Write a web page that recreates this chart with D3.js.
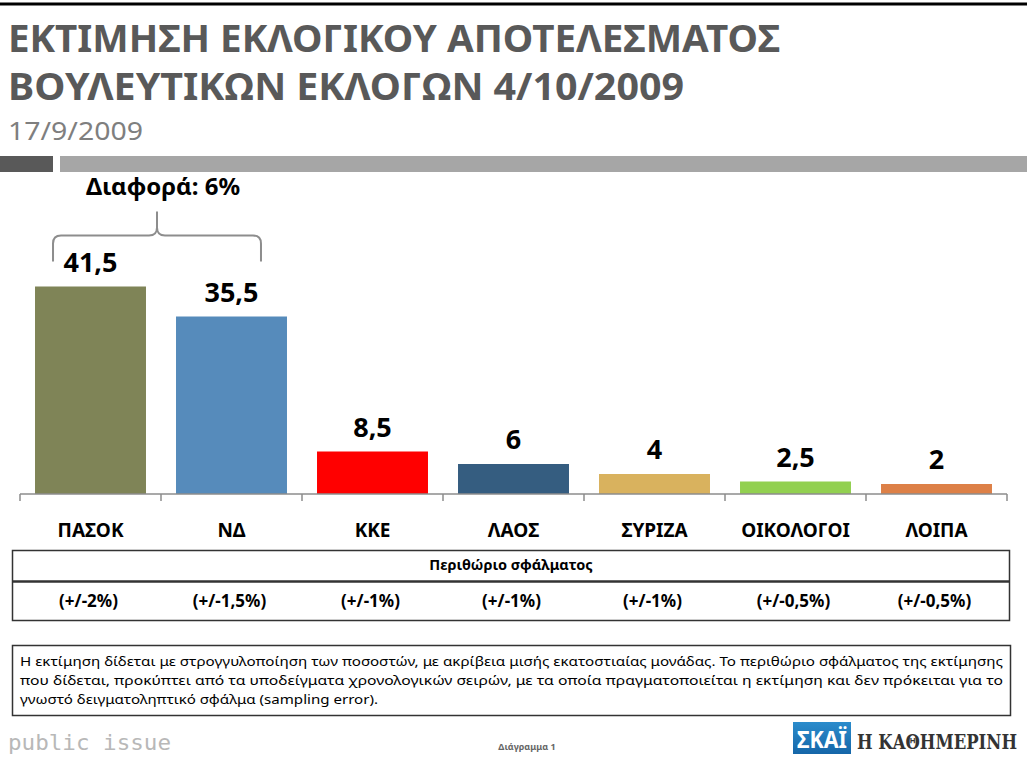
<!DOCTYPE html>
<html>
<head>
<meta charset="utf-8">
<script src="https://cdn.jsdelivr.net/npm/d3@7"></script>
<style>
  body { margin: 0; background: #fff; }
  svg { display: block; font-family: "Noto Sans", "Open Sans", sans-serif; }
</style>
</head>
<body>
<svg id="chart"></svg>
<script>
// data
var parties = ["ΠΑΣΟΚ", "ΝΔ", "ΚΚΕ", "ΛΑΟΣ", "ΣΥΡΙΖΑ", "ΟΙΚΟΛΟΓΟΙ", "ΛΟΙΠΑ"];
var values = [41.5, 35.5, 8.5, 6, 4, 2.5, 2];
var partyColors = ["#7f8457", "#568bbb", "#ff0000", "#355d80", "#d9b25e", "#92d050", "#dd8047"];
var errorMargins = ["(+/-2%)", "(+/-1,5%)", "(+/-1%)", "(+/-1%)", "(+/-1%)", "(+/-0,5%)", "(+/-0,5%)"];
var titleLines = ["ΕΚΤΙΜΗΣΗ ΕΚΛΟΓΙΚΟΥ ΑΠΟΤΕΛΕΣΜΑΤΟΣ", "ΒΟΥΛΕΥΤΙΚΩΝ ΕΚΛΟΓΩΝ 4/10/2009"];
var subtitle = "17/9/2009";
var diffLabel = "Διαφορά: 6%";
var noteLines = [
  "Η εκτίμηση δίδεται με στρογγυλοποίηση των ποσοστών, με ακρίβεια μισής εκατοστιαίας μονάδας. Το περιθώριο σφάλματος της εκτίμησης",
  "που δίδεται, προκύπτει από τα υποδείγματα χρονολογικών σειρών, με τα οποία πραγματοποιείται η εκτίμηση και δεν πρόκειται για το",
  "γνωστό δειγματοληπτικό σφάλμα (sampling error)."
];

var width = 1027, height = 760;
var fmt = function (v) { return String(v).replace(".", ","); };

var svg = d3.select("#chart")
            .attr("width", width)
            .attr("height", height);

// top frame line
svg.append("line")
   .attr("x1", 0).attr("x2", width)
   .attr("y1", 4).attr("y2", 4)
   .attr("stroke", "#000").attr("stroke-width", 3);

// titles
var titleLen = [772, 676];
titleLines.forEach(function (t, i) {
    svg.append("text")
       .attr("x", 8)
       .attr("y", 52 + i * 48)
       .attr("textLength", titleLen[i])
       .attr("lengthAdjust", "spacingAndGlyphs")
       .style("font-size", "38px")
       .style("font-weight", "bold")
       .style("fill", "#595959")
       .text(t);
});
svg.append("text")
   .attr("x", 8).attr("y", 140)
   .attr("textLength", 135)
   .attr("lengthAdjust", "spacingAndGlyphs")
   .style("font-size", "26px")
   .style("fill", "#7f7f7f")
   .text(subtitle);

// gray separator bars
svg.append("rect").attr("x", 0).attr("y", 156).attr("width", 53).attr("height", 16).attr("fill", "#595959");
svg.append("rect").attr("x", 60).attr("y", 156).attr("width", width - 60).attr("height", 16).attr("fill", "#a6a6a6");

// scales
var x = d3.scaleBand()
          .domain(parties)
          .range([20, 1007])
          .paddingInner(0.213)
          .paddingOuter(0.1065);
var y = d3.scaleLinear()
          .domain([0, 45])
          .range([494, 269]);

// bars
svg.append("g")
   .selectAll("rect")
   .data(values)
   .enter()
   .append("rect")
   .attr("x", function (d, i) { return x(parties[i]); })
   .attr("y", function (d) { return y(d); })
   .attr("width", x.bandwidth())
   .attr("height", function (d) { return y(0) - y(d); })
   .attr("fill", function (d, i) { return partyColors[i]; });

// value labels
svg.append("g")
   .selectAll("text")
   .data(values)
   .enter()
   .append("text")
   .attr("x", function (d, i) { return x(parties[i]) + x.bandwidth() / 2; })
   .attr("y", function (d) { return y(d) - 15; })
   .attr("text-anchor", "middle")
   .style("font-size", "27px")
   .style("font-weight", "bold")
   .style("fill", "#000")
   .text(function (d) { return fmt(d); });

// category axis
var step = x.step();
var axis = svg.append("g").attr("transform", "translate(0," + y(0) + ")");
axis.append("line")
    .attr("x1", 20).attr("x2", 1007)
    .attr("stroke", "#8c8c8c").attr("stroke-width", 1.5);
axis.selectAll(".tk")
    .data(d3.range(parties.length + 1))
    .enter()
    .append("line")
    .attr("class", "tk")
    .attr("x1", function (i) { return 20 + i * step; })
    .attr("x2", function (i) { return 20 + i * step; })
    .attr("y1", 0).attr("y2", 7)
    .attr("stroke", "#8c8c8c").attr("stroke-width", 1.5);
axis.selectAll(".cat")
    .data(parties)
    .enter()
    .append("text")
    .attr("class", "cat")
    .attr("x", function (d) { return x(d) + x.bandwidth() / 2; })
    .attr("y", 43)
    .attr("text-anchor", "middle")
    .style("font-size", "19px")
    .style("font-weight", "bold")
    .style("fill", "#000")
    .text(function (d) { return d; });

// difference brace between first two bars
var bx1 = x(parties[0]) + 18,
    bx2 = x(parties[1]) + x.bandwidth() - 26,
    bm = (bx1 + bx2) / 2,
    barTop = y(values[0]);
var by = barTop - 51, bEnd = barTop - 25, bPeak = barTop - 75;
svg.append("path")
   .attr("d", "M" + bx1 + "," + bEnd + " L" + bx1 + "," + (by + 8) +
              " Q" + bx1 + "," + by + " " + (bx1 + 8) + "," + by +
              " L" + (bm - 8) + "," + by +
              " Q" + bm + "," + by + " " + bm + "," + (by - 8) +
              " L" + bm + "," + bPeak +
              " M" + bm + "," + (by - 8) +
              " Q" + bm + "," + by + " " + (bm + 8) + "," + by +
              " L" + (bx2 - 8) + "," + by +
              " Q" + bx2 + "," + by + " " + bx2 + "," + (by + 8) +
              " L" + bx2 + "," + bEnd)
   .attr("fill", "none")
   .attr("stroke", "#8d8d8d")
   .attr("stroke-width", 2);
svg.append("text")
   .attr("x", bm + 6).attr("y", 195)
   .attr("text-anchor", "middle")
   .style("font-size", "24px")
   .style("font-weight", "bold")
   .style("fill", "#000")
   .text(diffLabel);

// error margin table
var table = svg.append("g");
table.append("rect")
     .attr("x", 12.5).attr("y", 550.5)
     .attr("width", 997).attr("height", 70)
     .attr("fill", "none").attr("stroke", "#333").attr("stroke-width", 1.5);
table.append("line")
     .attr("x1", 12.5).attr("x2", 1009.5)
     .attr("y1", 581.5).attr("y2", 581.5)
     .attr("stroke", "#333").attr("stroke-width", 2.5);
table.append("text")
     .attr("x", 511).attr("y", 570)
     .attr("text-anchor", "middle")
     .style("font-size", "14.5px")
     .style("font-weight", "bold")
     .text("Περιθώριο σφάλματος");
table.selectAll(".err")
     .data(errorMargins)
     .enter()
     .append("text")
     .attr("class", "err")
     .attr("x", function (d, i) { return x(parties[i]) + x.bandwidth() / 2 - 2; })
     .attr("y", 607)
     .attr("text-anchor", "middle")
     .style("font-size", "17px")
     .style("font-weight", "bold")
     .text(function (d) { return d; });

// note box
svg.append("rect")
   .attr("x", 12.5).attr("y", 645.5)
   .attr("width", 998).attr("height", 70)
   .attr("fill", "none").attr("stroke", "#333").attr("stroke-width", 1.5);
var noteLen = [983, 983, 358];
noteLines.forEach(function (t, i) {
    svg.append("text")
       .attr("x", 20)
       .attr("y", 666 + i * 19)
       .attr("textLength", noteLen[i])
       .attr("lengthAdjust", "spacingAndGlyphs")
       .style("font-size", "13px")
       .style("fill", "#000")
       .text(t);
});

// footer
svg.append("text")
   .attr("x", 8).attr("y", 750)
   .attr("textLength", 163)
   .attr("lengthAdjust", "spacingAndGlyphs")
   .style("font-size", "22px")
   .style("fill", "#b8b8b8")
   .style("font-family", "'DejaVu Sans Mono', monospace")
   .text("public issue");
svg.append("text")
   .attr("x", 527).attr("y", 750)
   .attr("text-anchor", "middle")
   .style("font-size", "9px")
   .style("font-weight", "bold")
   .style("fill", "#666")
   .text("Διάγραμμα 1");

var grad = svg.append("defs").append("linearGradient")
              .attr("id", "skai").attr("x1", 0).attr("y1", 0).attr("x2", 0).attr("y2", 1);
grad.append("stop").attr("offset", "0%").attr("stop-color", "#2b8ccc");
grad.append("stop").attr("offset", "100%").attr("stop-color", "#1566a8");
svg.append("rect")
   .attr("x", 793).attr("y", 722)
   .attr("width", 58).attr("height", 32)
   .attr("fill", "url(#skai)");
svg.append("text")
   .attr("x", 797).attr("y", 748)
   .attr("textLength", 50)
   .attr("lengthAdjust", "spacingAndGlyphs")
   .style("font-size", "23px")
   .style("font-weight", "bold")
   .style("fill", "#fff")
   .text("ΣΚΑΪ");
svg.append("text")
   .attr("transform", "translate(857,749) scale(1,1.25)")
   .attr("textLength", 160)
   .attr("lengthAdjust", "spacingAndGlyphs")
   .style("font-size", "16px")
   .style("font-weight", "bold")
   .style("font-family", "'DejaVu Serif', serif")
   .style("fill", "#333")
   .text("Η ΚΑΘΗΜΕΡΙΝΗ");
</script>
</body>
</html>
